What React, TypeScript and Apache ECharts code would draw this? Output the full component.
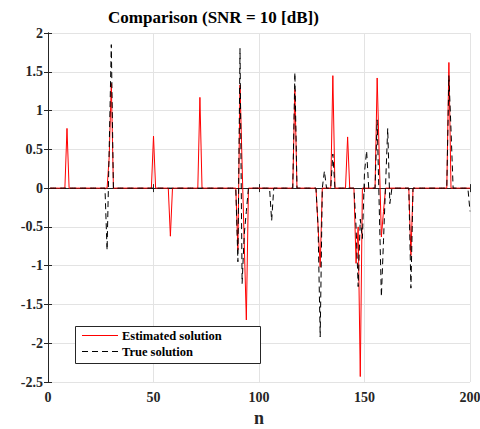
import React, { useEffect, useRef } from "react";
import * as echarts from "echarts";

const N = 200;
const xTicks = [0, 50, 100, 150, 200];
const yTicks = [-2.5, -2, -1.5, -1, -0.5, 0, 0.5, 1, 1.5, 2];
const legendNames = ["Estimated solution", "True solution"];

// Estimated solution (red): nonzero samples
const estIdx = [9, 29, 30, 50, 58, 72, 90, 91, 92, 93, 94, 117, 128, 129, 135, 142, 146, 147, 148, 156, 157, 158, 159, 172, 190];
const estVal = [0.77, 0.4, 1.35, 0.67, -0.62, 1.17, -0.8, 1.33, 0.3, -0.7, -1.7, 1.27, -0.5, -1.02, 1.45, 0.66, -0.97, -0.5, -2.43, 1.42, 0.4, -0.63, -0.3, -0.87, 1.62];

// True solution (black dashed): nonzero samples
const trueIdx = [28, 29, 30, 90, 91, 92, 93, 94, 106, 117, 128, 129, 131, 135, 146, 147, 148, 149, 150, 151, 156, 157, 158, 159, 160, 161, 162, 172, 190, 191, 200];
const trueVal = [-0.8, 0.5, 1.85, -0.95, 1.8, -1.23, -0.6, -0.3, -0.42, 1.49, -0.5, -1.92, 0.22, 0.44, -0.5, -1.27, -0.4, -0.65, 0.2, 0.48, 0.88, -0.26, -1.4, -0.68, 0.05, 0.77, -0.2, -1.29, 1.45, 0.75, -0.3];

function buildSeries(idx: number[], val: number[]) {
  const arr: [number, number][] = [];
  for (let n = 1; n <= N; n++) arr.push([n, 0]);
  idx.forEach((n, i) => {
    arr[n - 1][1] = val[i];
  });
  return arr;
}

const FONT = "Liberation Serif";
const AX = "#262626";

export default function App() {
  const ref = useRef<HTMLDivElement>(null);
  useEffect(() => {
    if (!ref.current) return;
    const chart = echarts.init(ref.current, undefined, { renderer: "svg" });
    const legendText = { fontFamily: FONT, fontWeight: "bold", fontSize: 12.5, fill: "#000" };
    const tickLabel = { fontFamily: FONT, fontWeight: "bold" as const, fontSize: 14, color: AX };
    chart.setOption({
      animation: false,
      backgroundColor: "#ffffff",
      textStyle: { fontFamily: FONT },
      title: {
        text: "Comparison (SNR = 10 [dB])",
        left: 108,
        top: 9,
        padding: 0,
        textStyle: { fontFamily: FONT, fontWeight: "bold", fontSize: 17, color: "#000" },
      },
      grid: { left: 48, right: 10, top: 33, bottom: 47, containLabel: false, outerBoundsMode: "none" },
      xAxis: [
        {
          type: "value",
          min: xTicks[0],
          max: xTicks[xTicks.length - 1],
          interval: 50,
          name: "n",
          nameLocation: "middle",
          nameGap: 27,
          nameTextStyle: { fontFamily: FONT, fontWeight: "bold", fontSize: 18, color: AX },
          axisLine: { show: true, lineStyle: { color: AX, width: 1 } },
          axisTick: { show: true, inside: true, length: 4, lineStyle: { color: AX } },
          axisLabel: { ...tickLabel, margin: 8 },
          splitLine: { show: true, lineStyle: { color: "#e3e3e3", width: 1 } },
        },
        {
          type: "value",
          position: "top",
          min: xTicks[0],
          max: xTicks[xTicks.length - 1],
          interval: 50,
          axisLine: { show: true, lineStyle: { color: AX, width: 1 } },
          axisTick: { show: true, inside: true, length: 4, lineStyle: { color: AX } },
          axisLabel: { show: false },
          splitLine: { show: false },
        },
      ],
      yAxis: [
        {
          type: "value",
          min: yTicks[0],
          max: yTicks[yTicks.length - 1],
          interval: 0.5,
          axisLine: { show: true, lineStyle: { color: AX, width: 1 } },
          axisTick: { show: true, inside: true, length: 4, lineStyle: { color: AX } },
          axisLabel: { ...tickLabel, margin: 5 },
          splitLine: { show: true, lineStyle: { color: "#e3e3e3", width: 1 } },
        },
        {
          type: "value",
          position: "right",
          min: yTicks[0],
          max: yTicks[yTicks.length - 1],
          interval: 0.5,
          axisLine: { show: true, lineStyle: { color: AX, width: 1 } },
          axisTick: { show: true, inside: true, length: 4, lineStyle: { color: AX } },
          axisLabel: { show: false },
          splitLine: { show: false },
        },
      ],
      graphic: [
        {
          type: "group",
          z: 20,
          children: [
            {
              type: "rect",
              z: 20,
              shape: { x: 75.5, y: 326.5, width: 185, height: 37 },
              style: { fill: "#ffffff", stroke: AX, lineWidth: 1 },
            },
            {
              type: "line",
              z: 21,
              shape: { x1: 82, y1: 335.5, x2: 118, y2: 335.5 },
              style: { stroke: "#ff0000", lineWidth: 1 },
            },
            {
              type: "text",
              z: 21,
              x: 122,
              y: 335.5,
              style: { ...legendText, text: legendNames[0], verticalAlign: "middle", align: "left" },
            },
            {
              type: "line",
              z: 21,
              shape: { x1: 82, y1: 351.5, x2: 118, y2: 351.5 },
              style: { stroke: "#000000", lineWidth: 1, lineDash: [6, 4] },
            },
            {
              type: "text",
              z: 21,
              x: 122,
              y: 351.5,
              style: { ...legendText, text: legendNames[1], verticalAlign: "middle", align: "left" },
            },
          ],
        },
      ],
      series: [
        {
          name: legendNames[0],
          type: "line",
          data: buildSeries(estIdx, estVal),
          symbol: "none",
          lineStyle: { color: "#ff0000", width: 1 },
          itemStyle: { color: "#ff0000" },
          z: 2,
        },
        {
          name: legendNames[1],
          type: "line",
          data: buildSeries(trueIdx, trueVal),
          symbol: "none",
          lineStyle: { color: "#000000", width: 1, type: [6, 4] },
          itemStyle: { color: "#000000" },
          z: 3,
        },
      ],
    });
    return () => chart.dispose();
  }, []);
  return <div ref={ref} style={{ position: "fixed", left: 0, top: 0, width: 480, height: 429 }} />;
}
